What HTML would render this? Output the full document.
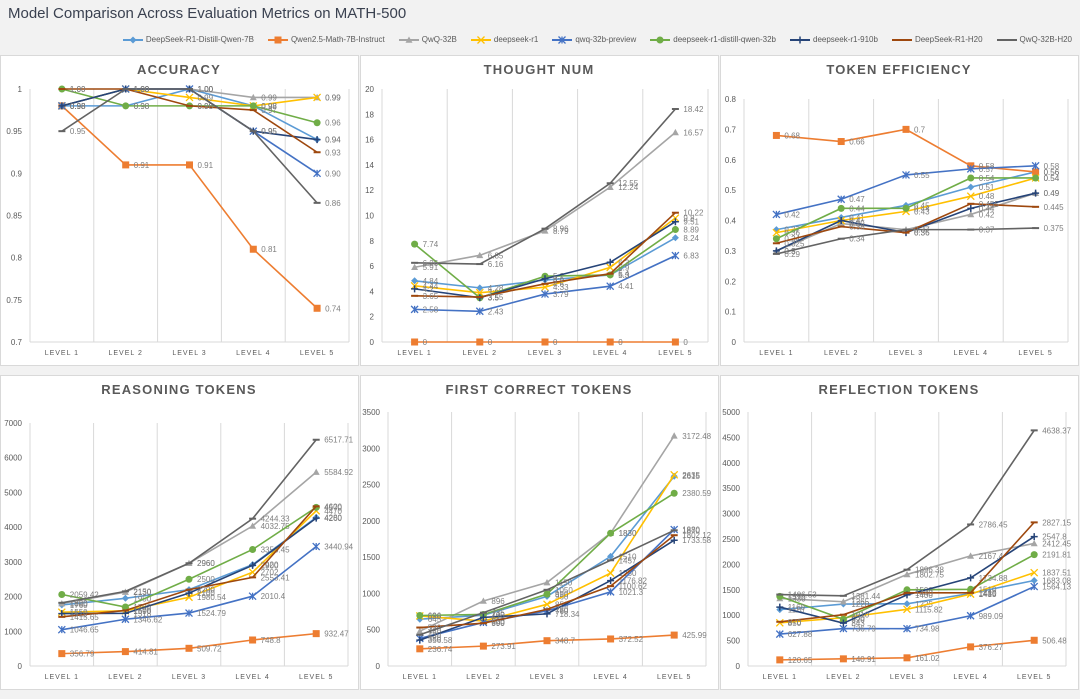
<!DOCTYPE html>
<html><head><meta charset="utf-8">
<style>
body{margin:0;width:1080px;height:699px;background:#f2f2f2;font-family:"Liberation Sans",sans-serif;overflow:hidden;position:relative}
#title{position:absolute;left:8px;top:5px;font-size:15px;color:#3a4150}
#legend{position:absolute;right:8px;top:35px;display:flex;gap:14px;font-size:8px;color:#595959;align-items:center}
.le{display:flex;align-items:center;gap:3px}
svg{position:absolute;left:0;top:0}
</style></head><body>
<div id="title">Model Comparison Across Evaluation Metrics on MATH-500</div>
<div id="legend"></div>
<svg id="s" width="1080" height="699"></svg>
<script>
const seriesNames=["DeepSeek-R1-Distill-Qwen-7B","Qwen2.5-Math-7B-Instruct","QwQ-32B","deepseek-r1","qwq-32b-preview","deepseek-r1-distill-qwen-32b","deepseek-r1-910b","DeepSeek-R1-H20","QwQ-32B-H20"];
const categories=["LEVEL 1","LEVEL 2","LEVEL 3","LEVEL 4","LEVEL 5"];
const accuracy=[[0.98,0.98,1.00,0.98,0.94],[0.98,0.91,0.91,0.81,0.74],[0.98,1.00,1.00,0.99,0.99],[0.98,1.00,0.99,0.98,0.99],[0.98,1.00,1.00,0.95,0.90],[1.00,0.98,0.98,0.98,0.96],[0.98,1.00,1.00,0.95,0.94],[1.00,1.00,0.98,0.975,0.925],[0.95,1.00,1.00,0.95,0.865]];
const thoughtNum=[[4.84,4.28,4.9,5.3,8.24],[0,0,0,0,0],[5.91,6.85,8.79,12.24,16.57],[4.44,3.9,4.33,5.9,9.8],[2.58,2.43,3.79,4.41,6.83],[7.74,3.5,5.2,5.3,8.89],[4.2,3.5,5.0,6.3,9.51],[3.65,3.55,4.6,5.4,10.22],[6.26,6.16,8.96,12.55,18.42]];
const tokenEff=[[0.37,0.41,0.45,0.51,0.56],[0.68,0.66,0.70,0.58,0.56],[0.30,0.39,0.37,0.42,0.49],[0.36,0.40,0.43,0.48,0.54],[0.42,0.47,0.55,0.57,0.58],[0.34,0.44,0.44,0.54,0.54],[0.30,0.40,0.36,0.44,0.49],[0.325,0.38,0.36,0.455,0.445],[0.29,0.34,0.37,0.37,0.375]];
const reasoning=[[1760,1950,2200,2920,4280],[356.79,414.81,509.72,748.8,932.47],[1800,2130,2960,4032.75,5584.92],[1550,1590,1980.54,2702,4470],[1046.65,1346.62,1524.79,2010.4,3440.94],[2059.42,1700,2500,3356.45,4570],[1510,1518,2100,2900,4260],[1415.65,1600,2200,2553.41,4600],[1820,2150,2960,4244.33,6517.71]];
const firstCorrect=[[645,700,960,1510,2615],[236.74,273.91,348.7,372.52,425.99],[480,896,1150,1830,3172.48],[690,620,850,1280,2635],[380,600,760,1021.3,1880],[696,710,990,1830,2380.59],[356.58,670,718.34,1176.82,1733.58],[530,590,780,1100.62,1802.12],[430,735,1050,1457,1870]];
const reflection=[[1110,1220,1225,1430,1683.08],[120.65,140.91,161.02,376.27,506.48],[1330,1265,1802.75,2167.4,2412.45],[850,950,1115.82,1415,1837.51],[627.88,736.79,734.98,989.09,1564.13],[1370,920,1500,1510,2191.81],[1160,843,1400,1734.88,2547.80],[870,1010,1440,1440,2827.15],[1406.53,1381.44,1896.38,2786.45,4638.37]];
const accTicks=["0.7","0.75","0.8","0.85","0.9","0.95","1"];
const thoughtTicks=["0","2","4","6","8","10","12","14","16","18","20"];
const effTicks=["0","0.1","0.2","0.3","0.4","0.5","0.6","0.7","0.8"];
const reasonTicks=["0","1000","2000","3000","4000","5000","6000","7000"];
const firstTicks=["0","500","1000","1500","2000","2500","3000","3500"];
const reflTicks=["0","500","1000","1500","2000","2500","3000","3500","4000","4500","5000"];

const colors=["#5B9BD5","#ED7D31","#A5A5A5","#FFC000","#4472C4","#70AD47","#264478","#9E480E","#636363"];
const markers=["diamond","square","triangle","x","star","circle","plus","dash","dash"];
const NS="http://www.w3.org/2000/svg";
const svg=document.getElementById('s');
function mk(tag,attrs,parent){const e=document.createElementNS(NS,tag);for(const k in attrs)e.setAttribute(k,attrs[k]);(parent||svg).appendChild(e);return e;}
function marker(g,type,x,y,c){
  const s=3.5;
  if(type==="diamond")return mk('path',{d:`M${x} ${y-s}L${x+s} ${y}L${x} ${y+s}L${x-s} ${y}Z`,fill:c},g);
  if(type==="square")return mk('rect',{x:x-s,y:y-s,width:2*s,height:2*s,fill:c},g);
  if(type==="triangle")return mk('path',{d:`M${x} ${y-s}L${x+s} ${y+s*0.8}L${x-s} ${y+s*0.8}Z`,fill:c},g);
  if(type==="circle")return mk('circle',{cx:x,cy:y,r:s,fill:c},g);
  if(type==="x")return mk('path',{d:`M${x-s} ${y-s}L${x+s} ${y+s}M${x+s} ${y-s}L${x-s} ${y+s}`,stroke:c,'stroke-width':1.3},g);
  if(type==="star")return mk('path',{d:`M${x-s} ${y-s}L${x+s} ${y+s}M${x+s} ${y-s}L${x-s} ${y+s}M${x} ${y-s}L${x} ${y+s}`,stroke:c,'stroke-width':1.3},g);
  if(type==="plus")return mk('path',{d:`M${x-s} ${y}L${x+s} ${y}M${x} ${y-s}L${x} ${y+s}`,stroke:c,'stroke-width':1.5},g);
  return mk('path',{d:`M${x-s} ${y}L${x+s} ${y}`,stroke:c,'stroke-width':2},g);
}
const lg=document.getElementById('legend');
seriesNames.forEach((n,i)=>{
  const d=document.createElement('div');d.className='le';
  
  
  d.innerHTML=`<svg width="20" height="8" style="position:static"><line x1="0" y1="4" x2="20" y2="4" stroke="${colors[i]}" stroke-width="2"/></svg><span>${n}</span>`;
  const sv=d.querySelector('svg');marker(sv,markers[i],10,4,colors[i]);
  lg.appendChild(d);
});
function panel(name,title,data,ticks,min,max,box,plot,dec){
  const g=mk('g',{});
  
  
  mk('rect',{x:box[0]+.5,y:box[1]+.5,width:box[2],height:box[3],fill:'#fff',stroke:'#d9d9d9'},g);
  const t=mk('text',{x:box[0]+box[2]/2,y:box[1]+19,'text-anchor':'middle','font-size':13,'font-weight':'bold',fill:'#595959','letter-spacing':1.2},g);
  t.textContent=title;
  
  
  const [L,T,R,B]=plot;
  const yS=v=>B-(v-min)/(max-min)*(B-T);
  const cw=(R-L)/categories.length;
  const xS=i=>L+cw*(i+0.5);
  for(let i=0;i<=categories.length;i++)mk('line',{x1:L+cw*i,y1:T,x2:L+cw*i,y2:B,stroke:'#d9d9d9','stroke-width':1},g);
  mk('line',{x1:L,y1:B,x2:R,y2:B,stroke:'#d9d9d9'},g);
  ticks.forEach(tk=>{
    const e=mk('text',{x:L-8,y:yS(parseFloat(tk))+3,'text-anchor':'end','font-size':8,fill:'#595959'},g);e.textContent=tk;
    
    
  });
  categories.forEach((c,i)=>{
    const e=mk('text',{x:xS(i),y:B+13,'text-anchor':'middle','font-size':7,fill:'#595959','letter-spacing':1},g);e.textContent=c;
    
    
  });
  data.forEach((ser,si)=>{
    const sg=mk('g',{},g);
    
    
    mk('polyline',{points:ser.map((v,i)=>xS(i)+','+yS(v)).join(' '),fill:'none',stroke:colors[si],'stroke-width':1.6},sg);
    ser.forEach((v,i)=>{
      const m=marker(sg,markers[si],xS(i),yS(v),colors[si]);
      
      
      const lb=mk('text',{x:xS(i)+8,y:yS(v)+3,'font-size':8,fill:'#7f7f7f'},sg);
      lb.textContent=dec===null?String(v):v.toFixed(dec);
      
      
    });
  });
}
panel('accuracy','ACCURACY',accuracy,accTicks,0.7,1,[0,55,358,310],[30,89,349,342],2);
panel('thought-num','THOUGHT NUM',thoughtNum,thoughtTicks,0,20,[360,55,358,310],[382,89,708,342],null);
panel('token-efficiency','TOKEN EFFICIENCY',tokenEff,effTicks,0,0.8,[720,55,358,310],[744,99,1068,342],null);
panel('reasoning-tokens','REASONING TOKENS',reasoning,reasonTicks,0,7000,[0,375,358,314],[30,423,348,666],null);
panel('first-correct-tokens','FIRST CORRECT TOKENS',firstCorrect,firstTicks,0,3500,[360,375,358,314],[388,412,706,666],null);
panel('reflection-tokens','REFLECTION TOKENS',reflection,reflTicks,0,5000,[720,375,358,314],[748,412,1066,666],null);
</script>
</body></html>
